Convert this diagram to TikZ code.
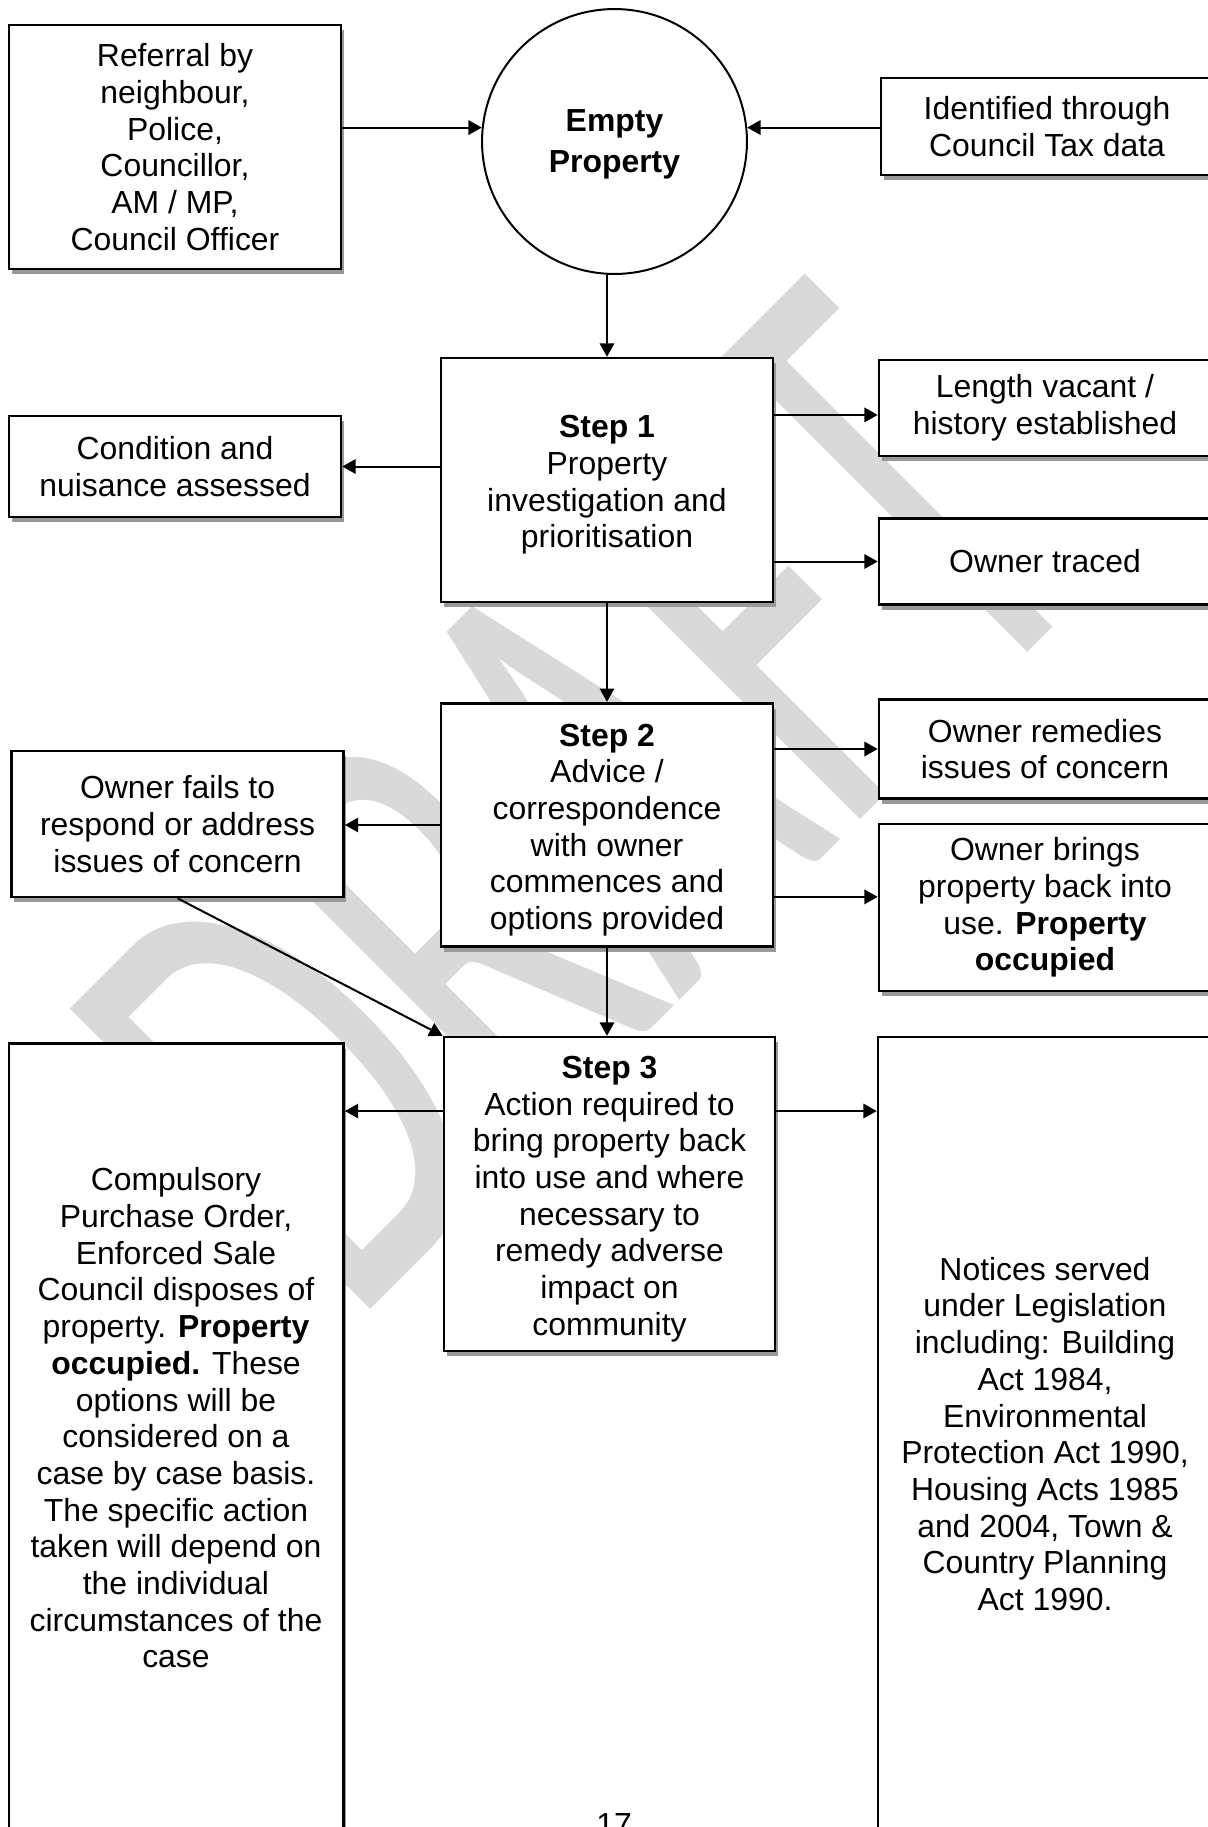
\documentclass[tikz,border=0pt]{standalone}
\usepackage{fontspec}
\setmainfont{Liberation Sans}
\newfontfamily\wmfont{Carlito}
\usepackage{tikz}
\usetikzlibrary{arrows.meta,shadows}

\begin{document}
\begin{tikzpicture}[x=0.376pt, y=-0.376pt]
% Node styles ---
\tikzstyle{man} = [rectangle, line width = 1pt, minimum width = 124.8pt, inner sep = 0pt, draw = black!100, fill = white!100, align = center, font = \fontsize{12}{13.8}\selectfont, drop shadow = {shadow xshift = 1pt, shadow yshift = -2pt, fill = black!40, opacity = 1}]
\tikzstyle{lat} = [circle, line width = 0.75pt, minimum size = 99.6pt, inner sep = 0pt, draw = black!100, fill = white!100, align = center, font = \fontsize{12}{15.5}\selectfont\bfseries]
\tikzstyle{txt} = [align = center, inner sep = 0pt, font = \fontsize{12}{13.8}\selectfont]
\tikzstyle{con} = [-{Triangle[length = 5pt, width = 5.4pt]}, line width = 0.75pt, draw = black!100]
\tikzstyle{wmk} = [anchor = base east, inner sep = 0pt, transform shape, text = black!15, font = \wmfont\fontsize{150}{150}\selectfont]
% Begin Figure ---
\clip (0,0) rectangle (1208,1827);
% Watermark
\begin{scope}[shift = {(1109,571)}, rotate = 45, yscale = 1.66]
\node at (0,0) [wmk] (draft) {DRAFT};
\end{scope}
% Nodes
\node at (+614.5,+141.5) [lat] (empty) {\rule{0pt}{10.4pt}Empty\\Property};
\node at (+175,+147) [man, minimum height = 91.7pt] (ref) {Referral by\\neighbour,\\Police,\\Councillor,\\AM / MP,\\Council Officer};
\node at (+1047,+126.5) [man, minimum height = 36.5pt] (ident) {Identified through\\Council Tax data};
\node at (+607,+480) [man, minimum height = 91.7pt] (step1) {\rule{0pt}{12.1pt}\textbf{Step 1}\\Property\\investigation and\\prioritisation};
\node at (+175,+466.5) [man, minimum height = 38pt] (cond) {Condition and\\nuisance assessed};
\node at (+1045,+408) [man, minimum height = 36.1pt] (length) {Length vacant /\\history established};
\node at (+1045,+561.5) [man, minimum height = 32.3pt] (traced) {Owner traced};
\node at (+607,+825) [man, minimum height = 91.6pt] (step2) {\rule{0pt}{12.1pt}\textbf{Step 2}\\Advice /\\correspondence\\with owner\\commences and\\options provided};
\node at (+177.6,+824) [man, minimum height = 54.9pt] (fails) {Owner fails to\\respond or address\\issues of concern};
\node at (+1045,+749) [man, minimum height = 37.2pt] (remedies) {Owner remedies\\issues of concern};
\node at (+1045,+907.5) [man, minimum height = 62.8pt] (brings) {Owner brings\\property back into\\use. \textbf{Property}\\\textbf{occupied}};
\node at (+609.5,+1194) [man, minimum width = 124.5pt, minimum height = 118pt] (step3) {\rule{0pt}{12.1pt}\textbf{Step 3}\\Action required to\\bring property back\\into use and where\\necessary to\\remedy adverse\\impact on\\community};
\node at (+176.3,+1471.5) [man, minimum width = 125.8pt, minimum height = 322pt] (cpo) {};
\node at (+176,+1418) [txt] (cpotext) {Compulsory\\Purchase Order,\\Enforced Sale\\Council disposes of\\property. \textbf{Property}\\\textbf{occupied.} These\\options will be\\considered on a\\case by case basis.\\The specific action\\taken will depend on\\the individual\\circumstances of the\\case};
\node at (+1044,+1468.5) [man, minimum height = 324.5pt] (notices) {};
\node at (+1045,+1434) [txt] (noticestext) {Notices served\\under Legislation\\including: Building\\Act 1984,\\Environmental\\Protection Act 1990,\\Housing Acts 1985\\and 2004, Town \&\\Country Planning\\Act 1990.};
\node at (+614,+1835) [txt, anchor = base] (pnum) {17};
% Arrow ends
\coordinate (lenin) at ([yshift=-2.6pt]length.west);
\coordinate (brin) at ([yshift=4pt]brings.west);
\coordinate (s3w) at ([yshift=31.2pt]step3.west);
\coordinate (s3e) at ([yshift=31.2pt]step3.east);
% Paths
\path (ref.east |- empty.174) edge [con] (empty.174);
\path (ident.west |- empty.6) edge [con] (empty.6);
\path (empty.south -| step1.north) edge [con] (step1.north);
\path (step1.west |- cond.east) edge [con] (cond.east);
\path (step1.east |- lenin) edge [con] (lenin);
\path (step1.east |- traced.west) edge [con] (traced.west);
\path (step1.south) edge [con] (step2.north);
\path (step2.west) edge [con] (step2.west -| fails.east);
\path (step2.east |- remedies.west) edge [con] (remedies.west);
\path (step2.east |- brin) edge [con] (brin);
\path (step2.south) edge [con] (step2.south |- step3.north);
\path (fails.south) edge [con] (step3.north west);
\path (s3w) edge [con] (s3w -| cpo.east);
\path (s3e) edge [con] (s3e -| notices.west);
\end{tikzpicture}
\end{document}
